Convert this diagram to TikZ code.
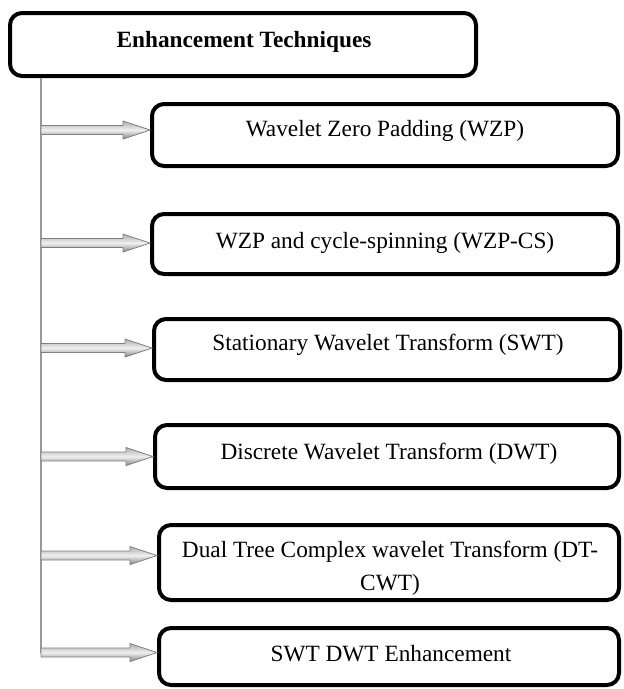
\documentclass[tikz,border=0pt]{standalone}
\usepackage{fontspec}
\setmainfont{Liberation Serif}
\usetikzlibrary{calc}

% Broad grey arrow from a point on the spine to the target point #2
\newcommand\fatlink[2]{%
  \path[fatarrow] let \p1=(#1), \p2=(#2) in
    (\x1,\y2+4.5pt) -- (\x2-27pt,\y2+4.5pt) -- (\x2-27pt,\y2+9pt) -- (\x2,\y2)
    -- (\x2-27pt,\y2-9pt) -- (\x2-27pt,\y2-4.5pt) -- (\x1,\y2-4.5pt) -- cycle;}

\begin{document}
\begin{tikzpicture}[x=1pt,y=-1pt,
  box/.style={draw=black, line width=4pt, rounded corners=12pt, fill=white, inner sep=0pt},
  lbl/.style={font=\fontsize{23.3}{33}\selectfont, align=center, inner sep=0pt},
  spine/.style={draw=black!40, line width=1.4pt},
  fatarrow/.style={draw=black!50, line width=0.8pt, top color=black!32,
    bottom color=black!48, middle color=black!6}
]
\useasboundingbox (0,0) rectangle (624,689);

% boxes
\node[box, minimum width=466pt, minimum height=63pt] (top) at (243,44.5) {};
\node[box, minimum width=466pt, minimum height=62pt] (b1) at (385,135) {};
\node[box, minimum width=466pt, minimum height=60pt] (b2) at (385,244) {};
\node[box, minimum width=466pt, minimum height=61pt] (b3) at (387,349.5) {};
\node[box, minimum width=464pt, minimum height=63pt] (b4) at (387,456.5) {};
\node[box, minimum width=460pt, minimum height=75pt] (b5) at (389,562.5) {};
\node[box, minimum width=460pt, minimum height=57pt] (b6) at (389,656.5) {};

% texts
\node[lbl, font=\fontsize{23.3}{33}\selectfont\bfseries, anchor=base] (l0) at (244,47) {Enhancement Techniques};
\node[lbl, anchor=base] (l1) at (385,136) {Wavelet Zero Padding (WZP)};
\node[lbl, anchor=base] (l2) at (385,248) {WZP and cycle-spinning (WZP-CS)};
\node[lbl, anchor=base] (l3) at (388,350) {Stationary Wavelet Transform (SWT)};
\node[lbl, anchor=base] (l4) at (389,459) {Discrete Wavelet Transform (DWT)};
\node[lbl] (l5) at (390,568) {Dual Tree Complex wavelet Transform (DT-\\CWT)};
\node[lbl, anchor=base] (l6) at (391,661) {SWT DWT Enhancement};

% arrow tips on the boxes
\coordinate (t1) at ([yshift=5pt]b1.west);
\coordinate (t2) at ([yshift=1pt]b2.west);
\coordinate (t3) at ([yshift=1.5pt]b3.west);
\coordinate (t4) at (b4.west);
\coordinate (t5) at ([yshift=7pt]b5.west);
\coordinate (t6) at ([yshift=4pt]b6.west);

% spine
\coordinate (s0) at (41,78);
\draw[spine] (s0) -- (s0 |- t6);

% arrows
\foreach \t in {t1,t2,t3,t4,t5,t6}{\fatlink{s0}{\t}}
\end{tikzpicture}
\end{document}
